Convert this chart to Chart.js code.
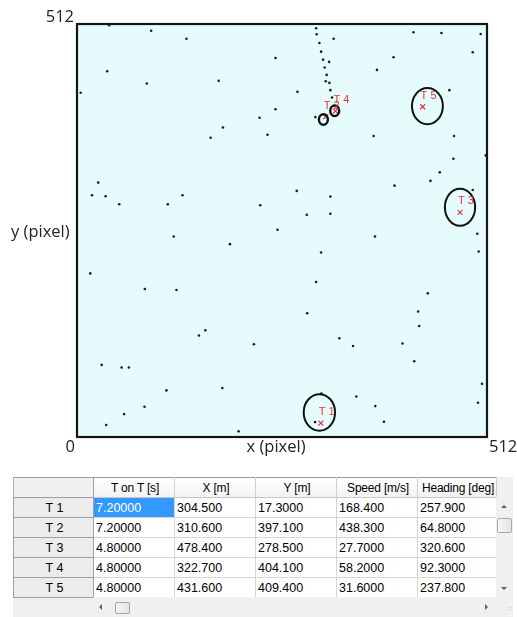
<!DOCTYPE html>
<html>
<head>
<meta charset="utf-8">
<script src="https://cdn.jsdelivr.net/npm/chart.js@4.4.1/dist/chart.umd.min.js"></script>
<style>
  body { margin: 0; background: #fff; width: 517px; height: 617px; overflow: hidden; position: relative; }
  #plot { position: absolute; left: 0; top: 0; width: 517px; height: 470px; }
  #grid { position: absolute; left: 13px; top: 477px; width: 500px; height: 140px; background: #f0f0f0;
          font-family: "Liberation Sans", Arial, sans-serif; font-size: 12.5px; color: #000; }
  #grid table { border-collapse: collapse; table-layout: fixed; width: 483px; }
  #grid th, #grid td { height: 20px; padding: 0 0 0 2px; box-sizing: border-box; overflow: hidden; white-space: nowrap; }
  th.corner { background: #f0f0f0; border-top: 1px solid #9a9a9a; border-left: 1px solid #b0b0b0; border-bottom: 1px solid #a0a0a0; border-right: 1px solid #a0a0a0; }
  th.col { background: linear-gradient(#ffffff, #f2f2f2); font-weight: normal; text-align: center; padding: 0;
           font-size: 12px; letter-spacing: -0.2px;
           border-top: 1px solid #9a9a9a; border-right: 1px solid #d0d0d0; border-bottom: 1px solid #c8c8c8; }
  th.rowh { background: #ececec; font-weight: normal; text-align: center; padding: 0; border: 1px solid #a0a0a0; }
  td { background: #fff; border-right: 1px solid #d6d6d6; border-bottom: 1px solid #d6d6d6; }
  td.first { border-left: 1px solid #808080; }
  td.sel { background: #3399ff; color: #fff; }
  .vscroll { position: absolute; left: 483px; top: 20px; width: 17px; height: 100px; background: #f0f0f0; }
  .hscroll { position: absolute; left: 80px; top: 120px; width: 420px; height: 20px; background: #f0f0f0; }
  .thumb { position: absolute; box-sizing: border-box; border: 1px solid #a8a8a8; border-radius: 2px;
           background: linear-gradient(90deg, #f8f8f8, #e2e2e2); }
  .tri { position: absolute; width: 0; height: 0; }
  .grip { position: absolute; left: 494px; top: 129px; width: 5px; height: 5px;
          background: radial-gradient(circle, #b0b0b0 40%, transparent 45%); background-size: 2.5px 2.5px; }
</style>
</head>
<body>
<div id="plot"><canvas id="chart"></canvas></div>

<div id="grid">
  <table>
    <colgroup>
      <col style="width:80px"><col style="width:81px"><col style="width:81px">
      <col style="width:81px"><col style="width:81px"><col style="width:79px">
    </colgroup>
    <thead><tr id="head"></tr></thead>
    <tbody id="rows"></tbody>
  </table>
  <div class="vscroll">
    <div class="tri" style="left:5px;top:8px;border-left:3px solid transparent;border-right:3px solid transparent;border-bottom:3px solid #606060;"></div>
    <div class="thumb" style="left:1px;top:21px;width:15px;height:15px;"></div>
    <div class="tri" style="left:5px;top:90px;border-left:3px solid transparent;border-right:3px solid transparent;border-top:3px solid #606060;"></div>
  </div>
  <div class="hscroll">
    <div class="tri" style="left:6px;top:7px;border-top:3px solid transparent;border-bottom:3px solid transparent;border-right:3px solid #606060;"></div>
    <div class="thumb" style="left:22px;top:5px;width:15px;height:12px;"></div>
    <div class="tri" style="left:392px;top:7px;border-top:3px solid transparent;border-bottom:3px solid transparent;border-left:3px solid #606060;"></div>
  </div>
  <div class="grip"></div>
</div>

<script>
// detections (black dots), in pixel units of the 512 x 512 frame
const dotX = [40.2, 92.6, 136.7, 298.6, 299.3, 320.5, 302.7, 304.8, 307.3, 314.8, 309.3, 311.8, 310.6, 315.2, 316.4, 318.5,
  420.2, 455.1, 504.1, 494.2, 395.3, 374.6, 247.9, 37.7, 87.2, 176.9, 4.6, 275.3, 465.0, 247.9, 228.0, 297.7,
  182.2, 166.9, 237.9, 370.4, 470.9, 470.0, 510.4, 453.0, 441.4, 396.5, 494.2, 26.5, 18.7, 35.8, 52.7, 113.4,
  131.7, 274.4, 316.4, 228.8, 286.9, 316.4, 250.4, 120.8, 191.0, 372.1, 499.9, 501.6, 304.8, 16.6, 84.7, 124.2,
  298.6, 438.1, 287.4, 426.0, 427.3, 160.3, 152.3, 327.6, 220.9, 344.7, 406.5, 421.1, 30.8, 55.7, 64.8, 111.7,
  181.5, 505.8, 348.8, 372.5, 500.8, 84.3, 58.9, 36.5, 201.8, 383.3, 297.3, 305.2];
const dotY = [510.4, 503.7, 493.8, 506.7, 499.3, 493.8, 488.5, 477.7, 467.8, 465.0, 458.0, 448.9, 441.1, 439.0, 430.0, 420.9,
  501.7, 500.9, 499.6, 477.0, 470.8, 455.1, 469.9, 453.5, 438.2, 441.5, 426.7, 427.9, 430.0, 406.4, 395.7, 396.6,
  383.7, 371.0, 374.7, 373.1, 373.1, 345.0, 349.1, 328.1, 317.5, 311.6, 306.3, 315.4, 299.7, 298.4, 288.5, 288.5,
  299.7, 305.1, 298.0, 287.3, 275.4, 276.7, 256.9, 248.6, 239.1, 248.6, 251.9, 230.0, 228.8, 202.8, 183.4, 182.2,
  192.1, 178.1, 153.4, 155.5, 137.6, 132.3, 125.8, 122.4, 114.9, 112.9, 115.9, 94.0, 89.4, 86.2, 86.2, 57.8,
  60.6, 65.9, 50.3, 38.3, 42.4, 37.5, 28.4, 14.8, 7.0, 18.9, 18.5, 54.0];

// targets (table values)
const targetNames = ['T 1', 'T 2', 'T 3', 'T 4', 'T 5'];
const tOnT = [7.2, 7.2, 4.8, 4.8, 4.8];
const targetX = [304.5, 310.6, 478.4, 322.7, 431.6];
const targetY = [17.3, 397.1, 278.5, 404.1, 409.4];
const speed = [168.4, 438.3, 27.7, 58.2, 31.6];
const heading = [257.9, 64.8, 320.6, 92.3, 237.8];

// uncertainty ellipses: centre and half axes, same units
const ellX = [302.7, 307.7, 478.3, 321.8, 437.6];
const ellY = [30.5, 393.6, 284.8, 404.4, 410.2];
const ellRx = [19.6, 5.6, 18.9, 5.6, 19.3];
const ellRy = [22.6, 6.6, 22.9, 6.6, 22.5];

const columns = ['T on T [s]', 'X [m]', 'Y [m]', 'Speed [m/s]', 'Heading [deg]'];

// ---- table ----
const head = document.getElementById('head');
head.innerHTML = '<th class="corner"></th>' + columns.map(c => `<th class="col">${c}</th>`).join('');
const rows = document.getElementById('rows');
rows.innerHTML = targetNames.map((n, i) => {
  const vals = [tOnT[i], targetX[i], targetY[i], speed[i], heading[i]].map(v => v.toPrecision(6));
  return `<tr><th class="rowh">${n}</th>` + vals.map((v, j) => {
    let cls = j === 0 ? 'first' : '';
    if (i === 0 && j === 0) cls += ' sel';
    return `<td class="${cls}">${v}</td>`;
  }).join('') + '</tr>';
}).join('');

// ---- chart ----
const framePlugin = {
  id: 'frame',
  beforeDatasetsDraw(chart) {
    const { ctx, chartArea: a } = chart;
    ctx.save();
    ctx.fillStyle = '#e6fcfc';
    ctx.fillRect(a.left, a.top, a.right - a.left, a.bottom - a.top);
    ctx.strokeStyle = '#151515';
    ctx.lineWidth = 2.2;
    ctx.strokeRect(a.left, a.top, a.right - a.left, a.bottom - a.top);
    ctx.restore();
  },
  afterDatasetsDraw(chart) {
    const { ctx, chartArea: a, scales: { x, y } } = chart;
    ctx.save();
    // ellipses
    ctx.strokeStyle = '#111';
    ellX.forEach((cx, i) => {
      const px = x.getPixelForValue(cx), py = y.getPixelForValue(ellY[i]);
      const rx = x.getPixelForValue(cx + ellRx[i]) - px;
      const ry = py - y.getPixelForValue(ellY[i] + ellRy[i]);
      ctx.lineWidth = ellRx[i] < 10 ? 2.4 : 2;
      ctx.beginPath();
      ctx.ellipse(px, py, rx, ry, 0, 0, Math.PI * 2);
      ctx.stroke();
    });
    // target labels
    ctx.fillStyle = '#e0383c';
    ctx.font = '11px "Liberation Sans", Arial, sans-serif';
    ctx.textBaseline = 'middle';
    ctx.textAlign = 'left';
    targetNames.forEach((n, i) => {
      ctx.fillText(n, x.getPixelForValue(targetX[i]) - 2, y.getPixelForValue(targetY[i]) - 11);
    });
    // axis texts
    ctx.fillStyle = '#222';
    ctx.font = '16.5px "Open Sans", sans-serif';
    ctx.textBaseline = 'alphabetic';
    ctx.textAlign = 'right';
    ctx.fillText('512', a.left - 3, a.top - 2);
    ctx.fillText('0', a.left - 2, a.bottom + 15);
    ctx.textAlign = 'left';
    ctx.fillText('512', a.right + 2, a.bottom + 15);
    ctx.fillText('y (pixel)', 11, (a.top + a.bottom) / 2 + 6);
    ctx.textAlign = 'center';
    ctx.fillText('x (pixel)', (a.left + a.right) / 2 - 6, a.bottom + 15);
    ctx.restore();
  }
};

new Chart(document.getElementById('chart'), {
  type: 'scatter',
  data: {
    datasets: [
      {
        label: 'detections',
        data: dotX.map((v, i) => ({ x: v, y: dotY[i] })),
        backgroundColor: '#1e1e1e',
        borderWidth: 0,
        pointRadius: 1.3,
      },
      {
        label: 'targets',
        data: targetX.map((v, i) => ({ x: v, y: targetY[i] })),
        pointStyle: 'crossRot',
        borderColor: '#e0383c',
        borderWidth: 1.2,
        pointRadius: 3.5,
      }
    ]
  },
  options: {
    responsive: true,
    maintainAspectRatio: false,
    animation: false,
    layout: { padding: { left: 77, top: 24, right: 30, bottom: 33 } },
    plugins: { legend: { display: false }, tooltip: { enabled: false } },
    scales: {
      x: { display: false, min: 0, max: 512 },
      y: { display: false, min: 0, max: 512 }
    }
  },
  plugins: [framePlugin]
});
</script>
</body>
</html>
